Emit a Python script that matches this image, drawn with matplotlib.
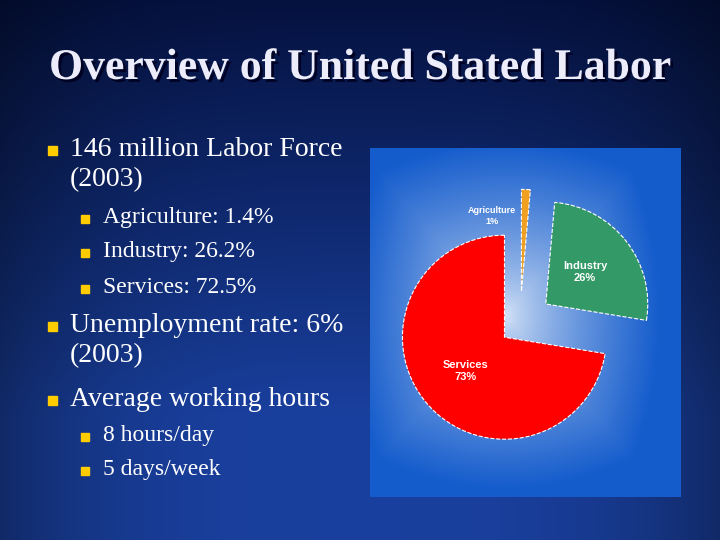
import numpy as np
import matplotlib.pyplot as plt
import matplotlib.patheffects as pe

sectors = ['Agriculture', 'Industry', 'Services']
shares = [1.4, 26.2, 72.5]
pie_labels = ['Agriculture\n1%', 'Industry\n26%', 'Services\n73%']
colors = ['#f0a020', '#339966', '#ff0000']
explode = [0.32, 0.32, 0.2]

title = 'Overview of United Stated Labor'
bullets = [
    (0, '146 million Labor Force\n(2003)'),
    (1, 'Agriculture: 1.4%'),
    (1, 'Industry: 26.2%'),
    (1, 'Services: 72.5%'),
    (0, 'Unemployment rate: 6%\n(2003)'),
    (0, 'Average working hours'),
    (1, '8 hours/day'),
    (1, '5 days/week'),
]
bullet_y = [149, 218, 252, 288, 325, 399, 436, 470]

W, H = 720, 540
fig = plt.figure(figsize=(7.2, 5.4), dpi=100)

# slide background
bg = fig.add_axes([0, 0, 1, 1])
yy, xx = np.mgrid[0:1:270j, 0:1:360j]
t = np.clip(yy * 1.3, 0, 1)
top = np.array([0.02, 0.07, 0.25])
bot = np.array([0.10, 0.25, 0.62])
img = top + (bot - top) * t[..., None]
edge = np.clip(np.abs(xx - 0.5) * 2, 0, 1) ** 3
img = img * (1 - 0.35 * edge[..., None])
bg.imshow(img, extent=[0, W, H, 0], aspect='auto')
bg.set_xlim(0, W)
bg.set_ylim(H, 0)
bg.axis('off')

bg.text(360, 68, title, ha='center', va='center', color='#ececfa',
        fontsize=31.5, fontweight='bold', family='Liberation Serif',
        path_effects=[pe.withSimplePatchShadow(offset=(2, -2), shadow_rgbFace='#000020', alpha=0.9)])

for (lvl, txt), y in zip(bullets, bullet_y):
    bx = 52 if lvl == 0 else 85
    tx = 70 if lvl == 0 else 103
    size = 20 if lvl == 0 else 17
    s = 9 if lvl == 0 else 8
    bg.add_patch(plt.Rectangle((bx - s / 2, y - s / 2 + 1), s, s, color='#ffcc00'))
    bg.text(tx, y - 12 if lvl == 0 else y - 11, txt, ha='left', va='top', color='white',
            fontsize=size, family='Liberation Serif', linespacing=1.25)

# chart panel
x0, x1, y0, y1 = 370, 680, 148, 497
ax = fig.add_axes([x0 / W, 1 - y1 / H, (x1 - x0) / W, (y1 - y0) / H])
py, px = np.mgrid[y0:y1:200j, x0:x1:200j]
cx, cy = 505, 315
u = np.abs(px - cx) / (x1 - x0) * 2
v = np.abs(py - cy) / (y1 - y0) * 2
d = np.clip(np.maximum(u, v) * 0.5 + np.hypot(u, v) * 0.5, 0, 1)
light = np.array([0.85, 0.90, 0.97])
dark = np.array([0.08, 0.36, 0.80])
panel = light + (dark - light) * (d ** 0.75)[..., None]
ax.imshow(panel, extent=[x0, x1, H - y1, H - y0], aspect='auto', zorder=0)

radius = 102
wedges, texts = ax.pie(shares, colors=colors, explode=[e * radius for e in explode],
                       startangle=90, counterclock=False, center=(520, H - 324),
                       radius=radius,
                       wedgeprops=dict(edgecolor='white', linewidth=0.8, linestyle='--'))
for w in wedges:
    w.set_zorder(2)
ax.text(492, H - 216, pie_labels[0], ha='center', va='center', color='white',
        fontsize=6.5, fontweight='bold', family='Liberation Sans', linespacing=1.3)
ax.text(585, H - 272, pie_labels[1], ha='center', va='center', color='white',
        fontsize=8, fontweight='bold', family='Liberation Sans', linespacing=1.3)
ax.text(466, H - 371, pie_labels[2], ha='center', va='center', color='white',
        fontsize=8, fontweight='bold', family='Liberation Sans', linespacing=1.3)
ax.set_xlim(x0, x1)
ax.set_ylim(H - y1, H - y0)
ax.set_aspect('auto')
ax.axis('off')

fig.savefig('out.png', dpi=100)
